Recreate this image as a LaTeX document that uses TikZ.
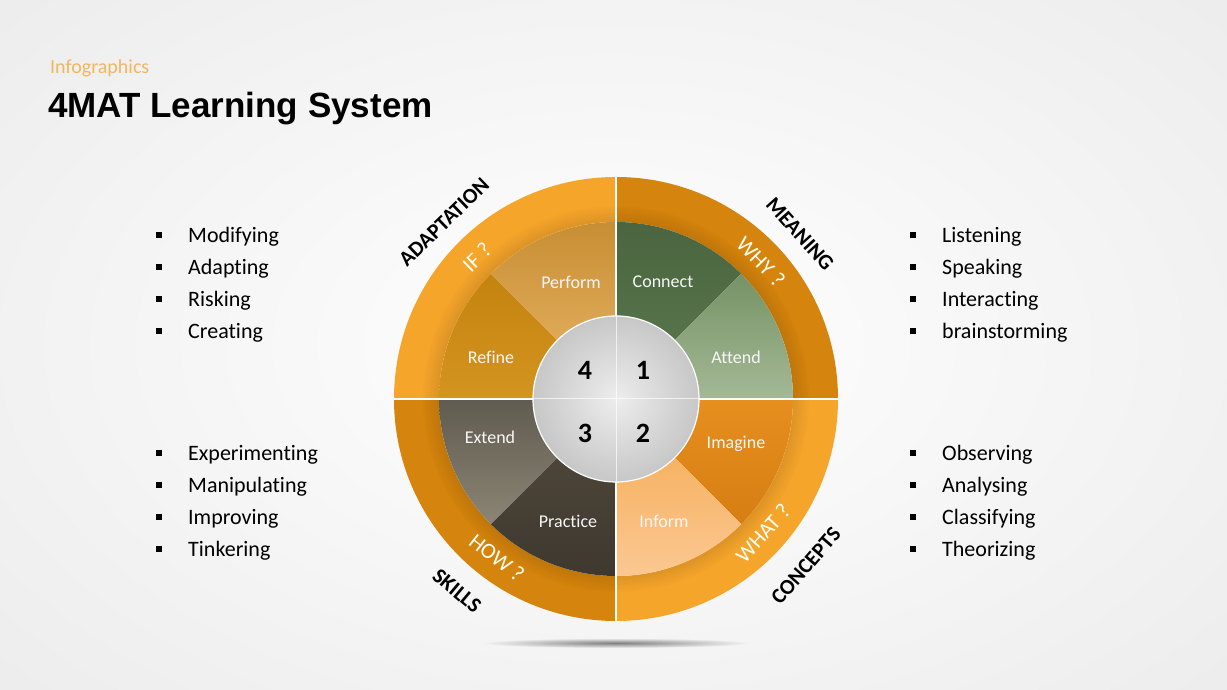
\documentclass[tikz,border=0pt]{standalone}
\usepackage{fontspec}
\setmainfont{Carlito}[Ligatures=NoCommon]
\newfontfamily\arialfont{Liberation Sans}
\usetikzlibrary{calc}
\definecolor{ringLight}{HTML}{F6A52B}
\definecolor{ringDark}{HTML}{D5840D}
\definecolor{subtitle}{HTML}{F0B75E}
\tikzset{
  inlabel/.style={text=white!94!gray, font=\fontsize{18}{18}\selectfont, inner sep=0pt},
  ringlabel/.style={text=white!96!yellow, font=\fontsize{22}{22}\selectfont, inner sep=0pt},
  outlabel/.style={text=black, font=\bfseries\fontsize{21.5}{21.5}\selectfont, inner sep=0pt},
  numlabel/.style={text=black, font=\bfseries\fontsize{28}{28}\selectfont, inner sep=0pt},
  item/.style={anchor=base west, inner sep=0pt, font=\fontsize{22}{22}\selectfont},
  bullet/.style={fill=black, minimum size=5.5pt, inner sep=0pt}
}
\begin{document}
\begin{tikzpicture}[x=1pt,y=1pt]
\useasboundingbox (0,0) rectangle (1227,690);
\shade[inner color=white, outer color=black!7] (-200,-150) rectangle (1427,840);

% titles
\node[anchor=base west, inner sep=0pt, text=subtitle, font=\fontsize{20}{20}\selectfont] (sub) at (50,616) {Infographics};
\node[anchor=base west, inner sep=0pt, font=\arialfont\bfseries\fontsize{35}{35}\selectfont] (title) at (48,572) {4MAT Learning System};

% bullet lists
\foreach \t/\yy [count=\i] in {Modifying/447,Adapting/415,Risking/383,Creating/351,Experimenting/229,Manipulating/197,Improving/165,Tinkering/133}{
  \node[bullet] (lb\i) at (159,\yy+8) {};
  \node[item] (lt\i) at (188,\yy) {\t};
}
\foreach \t/\yy [count=\i] in {Listening/447,Speaking/415,Interacting/383,brainstorming/351,Observing/229,Analysing/197,Classifying/165,Theorizing/133}{
  \node[bullet] (rb\i) at (913,\yy+8) {};
  \node[item] (rt\i) at (942,\yy) {\t};
}

\begin{scope}[shift={(616,291)}]
% shadow
\shade[inner color=black!50, outer color=white!96!black] (0,-244) ellipse [x radius=135, y radius=5];

% outer ring quadrants
\fill[ringLight] (90:222) arc[start angle=90,end angle=180,radius=222] -- (180:177) arc[start angle=180,end angle=90,radius=177] -- cycle;
\fill[ringDark] (0:222) arc[start angle=0,end angle=90,radius=222] -- (90:177) arc[start angle=90,end angle=0,radius=177] -- cycle;
\fill[ringDark] (180:222) arc[start angle=180,end angle=270,radius=222] -- (270:177) arc[start angle=270,end angle=180,radius=177] -- cycle;
\fill[ringLight] (270:222) arc[start angle=270,end angle=360,radius=222] -- (0:177) arc[start angle=0,end angle=-90,radius=177] -- cycle;
% inner shadow of the ring
\foreach \k in {0,...,9}{
  \draw[black, opacity={0.09*(1-\k/10)}, line width=1.6pt] (0,0) circle[radius={178+1.6*\k}];
}

% inner sectors
\shade[shading angle=30, top color={rgb,255:red,74;green,101;blue,63}, bottom color={rgb,255:red,92;green,122;blue,80}] (0,0) -- (90:177) arc[start angle=90,end angle=45,radius=177] -- cycle;
\shade[shading angle=-20, top color={rgb,255:red,118;green,146;blue,101}, bottom color={rgb,255:red,164;green,185;blue,150}] (0,0) -- (45:177) arc[start angle=45,end angle=0,radius=177] -- cycle;
\shade[top color={rgb,255:red,230;green,142;blue,30}, bottom color={rgb,255:red,214;green,126;blue,18}] (0,0) -- (0:177) arc[start angle=0,end angle=-45,radius=177] -- cycle;
\shade[shading angle=60, top color={rgb,255:red,244;green,168;blue,76}, bottom color={rgb,255:red,251;green,200;blue,146}] (0,0) -- (-45:177) arc[start angle=-45,end angle=-90,radius=177] -- cycle;
\shade[top color={rgb,255:red,84;green,75;blue,61}, bottom color={rgb,255:red,62;green,56;blue,47}] (0,0) -- (-90:177) arc[start angle=-90,end angle=-135,radius=177] -- cycle;
\shade[top color={rgb,255:red,96;green,91;blue,80}, bottom color={rgb,255:red,140;green,133;blue,117}] (0,0) -- (-135:177) arc[start angle=-135,end angle=-180,radius=177] -- cycle;
\shade[top color={rgb,255:red,196;green,131;blue,14}, bottom color={rgb,255:red,212;green,148;blue,32}] (0,0) -- (180:177) arc[start angle=180,end angle=135,radius=177] -- cycle;
\shade[shading angle=-40, top color={rgb,255:red,200;green,142;blue,52}, bottom color={rgb,255:red,234;green,182;blue,104}] (0,0) -- (135:177) arc[start angle=135,end angle=90,radius=177] -- cycle;

% center circle
\shade[inner color=white!93!black, outer color=white!78!black] (0,0) circle[radius=83];
\draw[white, line width=1.2pt] (0,0) circle[radius=83];

% dividers
\draw[white, line width=1.5pt] (180:222) -- (180:83) (0:83) -- (0:222) (90:222) -- (90:83) (270:83) -- (270:222);
\draw[white, opacity=0.7, line width=1pt] (180:83) -- (0:83) (90:83) -- (270:83);

% inner labels
\node[inlabel] (perform) at (-45,117) {Perform};
\node[inlabel] (connect) at (47,117) {Connect};
\node[inlabel] (refine) at (-125,42) {Refine};
\node[inlabel] (attend) at (120,42) {Attend};
\node[inlabel] (extend) at (-126,-38) {Extend};
\node[inlabel] (imagine) at (120,-45) {Imagine};
\node[inlabel] (practice) at (-48,-122) {Practice};
\node[inlabel] (inform) at (48,-122) {Inform};

% numbers
\node[numlabel] (n4) at (-31,29) {4};
\node[numlabel] (n1) at (27,29) {1};
\node[numlabel] (n3) at (-31,-34) {3};
\node[numlabel] (n2) at (27,-34) {2};

% ring labels
\node[ringlabel, rotate=44] (if) at (-139,142) {IF ?};
\node[ringlabel, rotate=-46] (why) at (145,137) {WHY ?};
\node[ringlabel, rotate=48] (what) at (147,-134) {WHAT ?};
\node[ringlabel, rotate=-38] (how) at (-119,-159) {HOW ?};

% outer labels
\node[outlabel, rotate=44] (adapt) at (-172,177) {ADAPTATION};
\node[outlabel, rotate=-48] (meaning) at (184,165) {MEANING};
\node[outlabel, rotate=49] (concepts) at (190,-167) {CONCEPTS};
\node[outlabel, rotate=-40] (skills) at (-159,-192) {SKILLS};
\end{scope}
\end{tikzpicture}
\end{document}
